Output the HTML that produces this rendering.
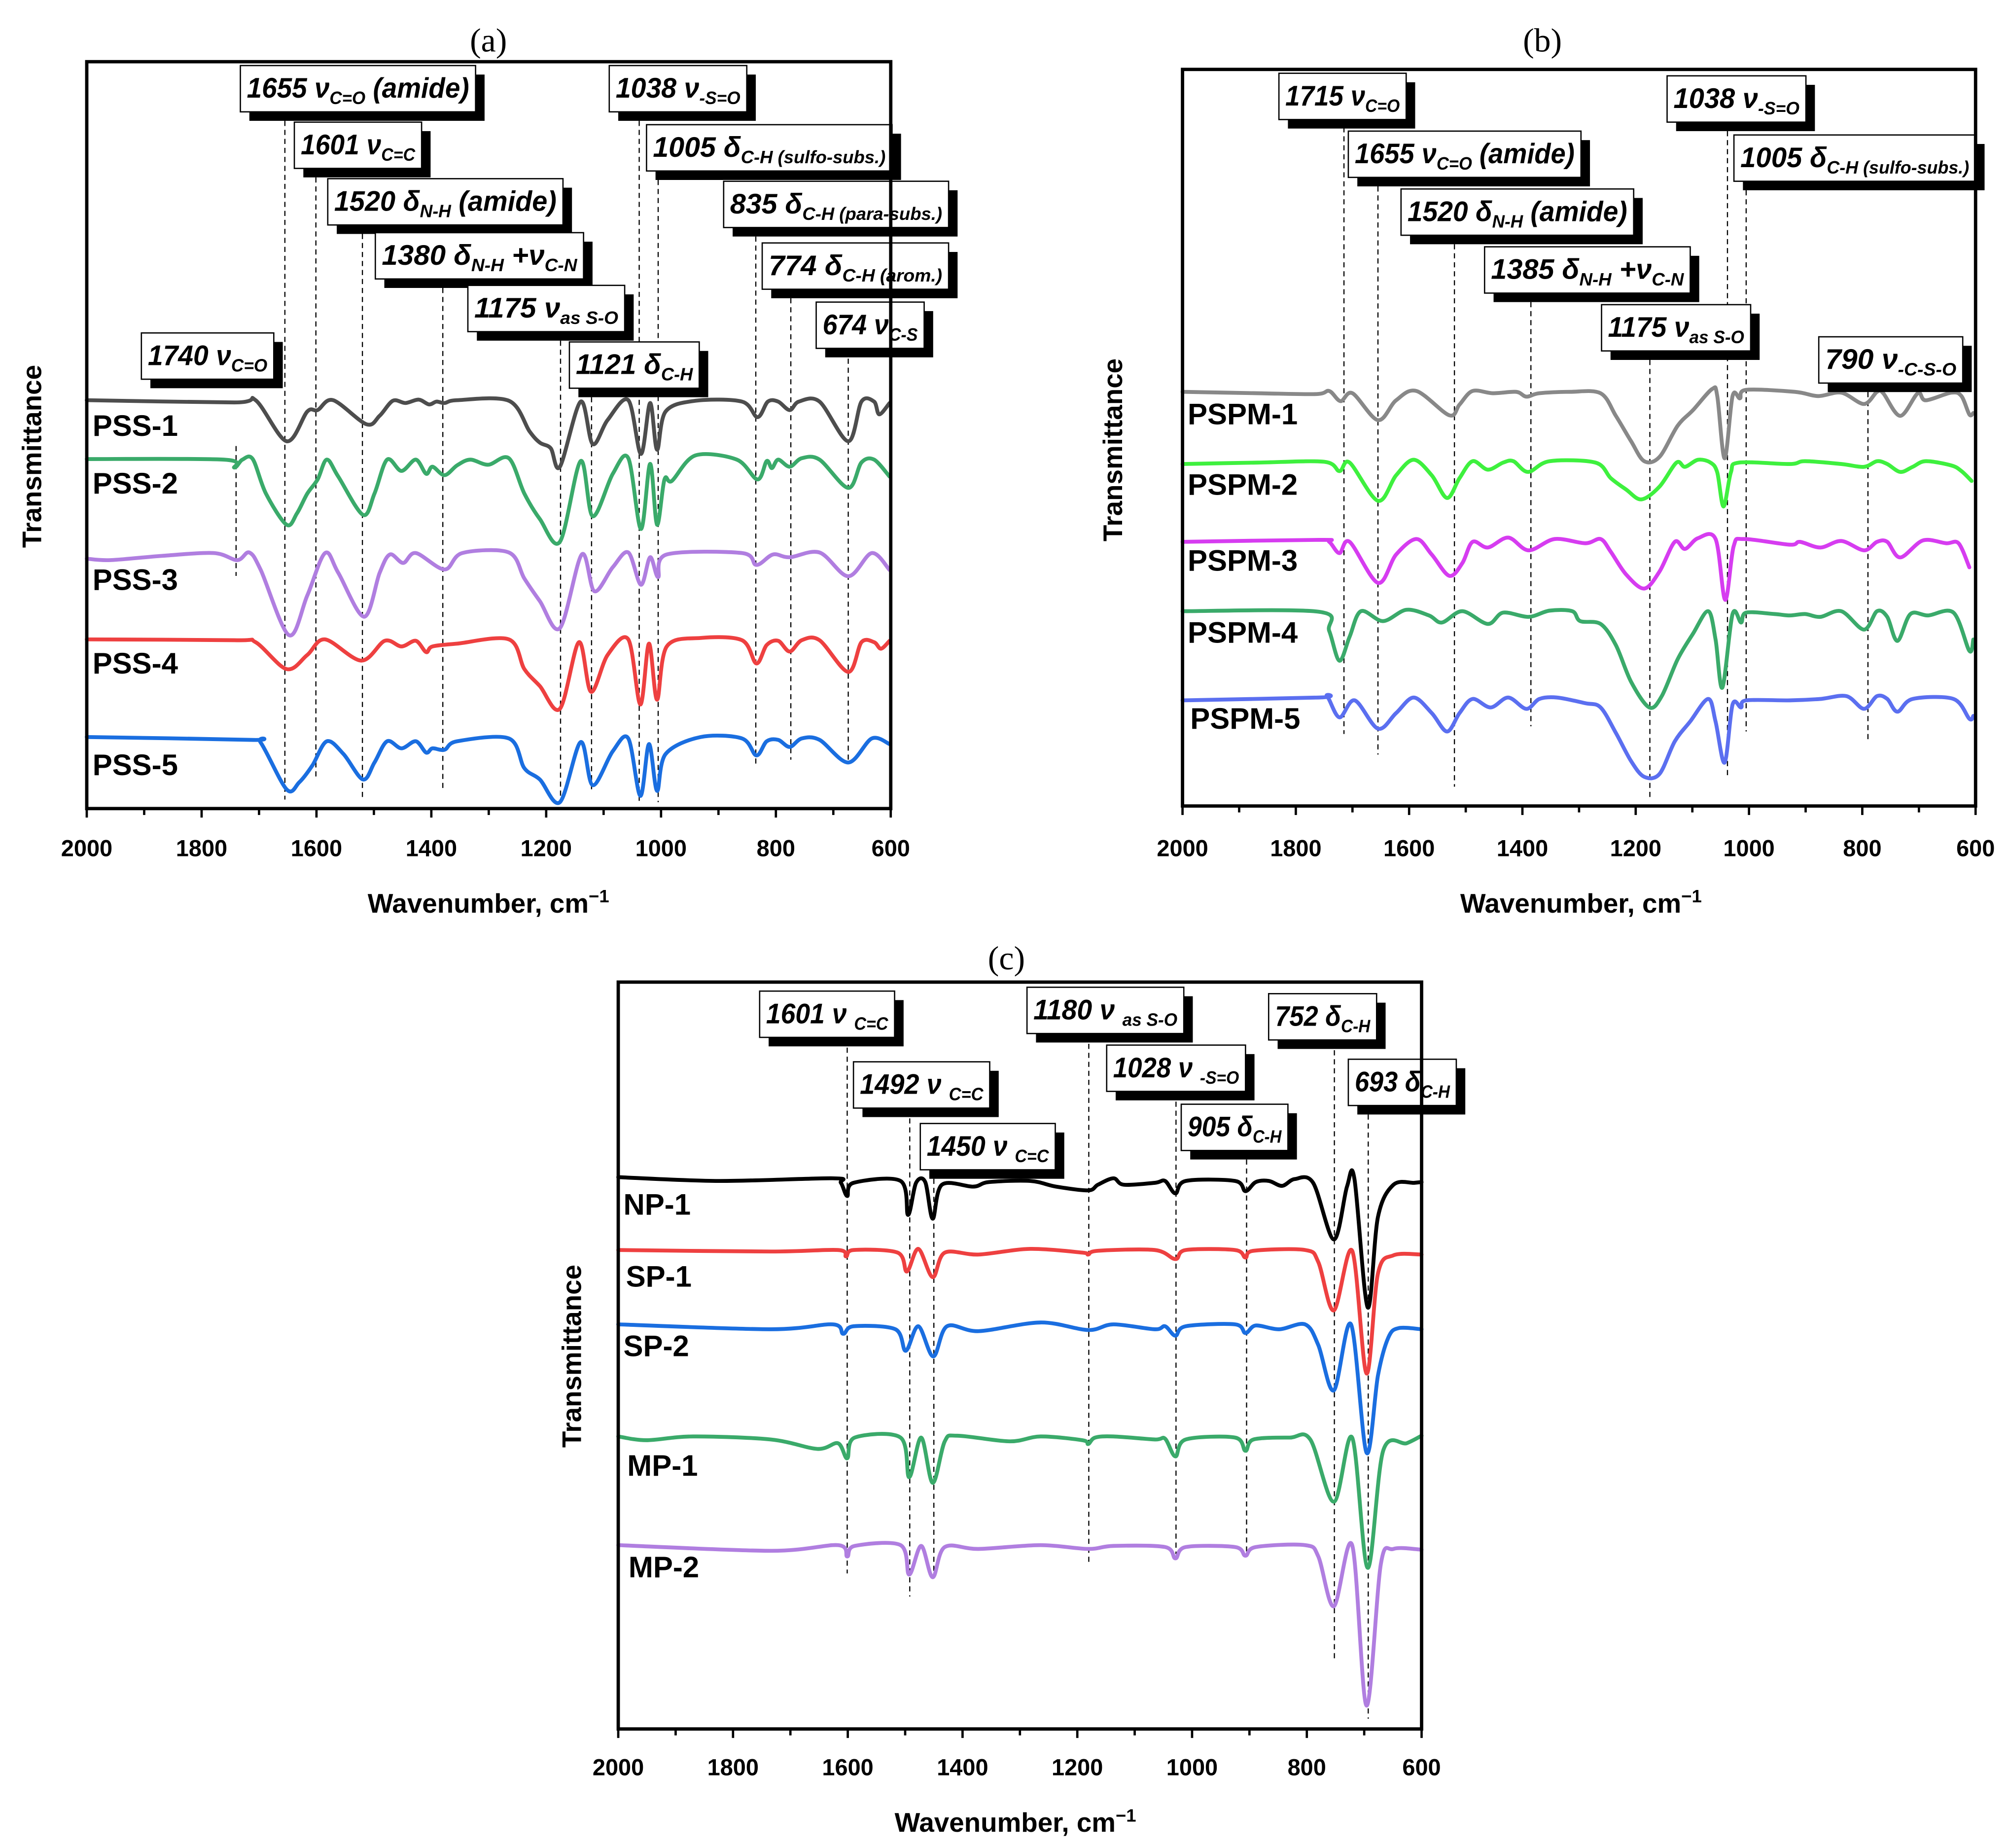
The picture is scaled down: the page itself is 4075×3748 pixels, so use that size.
<!DOCTYPE html>
<html><head><meta charset="utf-8"><style>
html,body{margin:0;padding:0;background:#fff;}
svg{display:block;}
</style></head><body>
<svg id="fig" xmlns="http://www.w3.org/2000/svg" width="4075" height="3748" viewBox="0 0 1563 1437.6" preserveAspectRatio="none" font-family="'Liberation Sans', sans-serif">
<rect x="0" y="0" width="1563" height="1437.6" fill="#fff"/>
</svg>
<script>
// ---------------- data (wavenumber cm-1, transmittance a.u.) ----------------
const pss1 = [[2000,1440],[1743,1432],[1706,1440],[1652,1295],[1616,1400],[1598,1405],[1571,1440],[1513,1355],[1490,1385],[1467,1438],[1445,1430],[1422,1442],[1404,1425],[1391,1435],[1377,1430],[1355,1440],[1265,1438],[1229,1330],[1211,1290],[1192,1270],[1176,1205],[1140,1435],[1119,1285],[1093,1370],[1057,1440],[1035,1250],[1019,1430],[1007,1265],[992,1400],[940,1438],[859,1435],[832,1380],[814,1435],[796,1435],[776,1405],[760,1435],[724,1435],[674,1295],[651,1435],[629,1435],[620,1390],[602,1430]];
const pss2 = [[2000,1232],[1761,1230],[1743,1202],[1729,1230],[1711,1232],[1688,1110],[1652,1000],[1634,1040],[1616,1110],[1598,1160],[1582,1230],[1562,1170],[1519,1035],[1499,1110],[1477,1230],[1452,1190],[1427,1230],[1409,1180],[1398,1205],[1377,1175],[1355,1210],[1332,1230],[1301,1212],[1265,1235],[1238,1110],[1211,1020],[1176,940],[1140,1225],[1119,1030],[1084,1180],[1057,1235],[1035,985],[1019,1215],[1007,1000],[994,1160],[981,1155],[940,1245],[868,1230],[832,1160],[816,1225],[807,1200],[796,1230],[776,1205],[755,1235],[724,1230],[674,1130],[651,1220],[629,1230],[602,1170]];
const pss3 = [[2000,880],[1959,875],[1869,890],[1779,900],[1738,875],[1717,902],[1697,840],[1648,610],[1616,750],[1585,900],[1562,830],[1517,675],[1490,830],[1472,895],[1449,865],[1427,900],[1377,842],[1346,900],[1265,902],[1238,810],[1211,730],[1176,635],[1138,895],[1116,765],[1084,850],[1057,902],[1035,788],[1019,885],[1005,815],[990,895],[859,900],[834,858],[805,895],[776,885],[724,902],[674,818],[633,900],[602,840]];
const pss4 = [[2000,595],[1743,592],[1706,585],[1652,490],[1616,540],[1585,595],[1522,520],[1481,590],[1452,570],[1427,590],[1409,550],[1398,570],[1355,580],[1265,595],[1238,490],[1211,430],[1176,350],[1143,585],[1122,410],[1093,540],[1057,595],[1036,365],[1021,580],[1007,382],[990,570],[931,600],[859,592],[834,510],[816,575],[796,590],[776,552],[755,592],[724,592],[674,480],[651,585],[629,585],[617,562],[602,590]];
const pss5 = [[2000,250],[1715,240],[1697,230],[1652,65],[1630,90],[1607,150],[1582,235],[1553,190],[1519,100],[1499,160],[1477,235],[1452,210],[1427,235],[1409,195],[1398,210],[1377,205],[1355,235],[1265,245],[1238,140],[1211,100],[1176,20],[1140,232],[1119,80],[1084,200],[1057,245],[1036,42],[1021,225],[1007,60],[992,190],[931,250],[859,245],[834,185],[816,235],[796,240],[776,215],[755,245],[724,240],[674,160],[633,245],[602,225]];

const pspm1 = [[2000,1460],[1867,1455],[1764,1452],[1741,1463],[1721,1427],[1700,1455],[1655,1360],[1623,1430],[1587,1463],[1529,1377],[1511,1415],[1488,1463],[1452,1455],[1411,1460],[1393,1443],[1370,1455],[1316,1460],[1262,1455],[1235,1375],[1208,1285],[1185,1215],[1158,1230],[1126,1340],[1099,1395],[1065,1470],[1056,1445],[1043,1225],[1029,1445],[1016,1437],[1005,1467],[919,1460],[878,1445],[837,1457],[797,1417],[774,1460],[763,1455],[733,1375],[702,1455],[688,1430],[643,1457],[625,1445],[611,1380],[604,1385]];
const pspm2 = [[2000,1205],[1867,1210],[1750,1213],[1723,1180],[1705,1210],[1655,1075],[1623,1165],[1592,1220],[1560,1165],[1533,1085],[1511,1155],[1488,1215],[1461,1185],[1434,1210],[1416,1215],[1390,1177],[1352,1215],[1271,1210],[1244,1155],[1217,1115],[1190,1080],[1158,1125],[1128,1210],[1113,1195],[1090,1220],[1068,1210],[1056,1175],[1045,1055],[1032,1175],[1018,1210],[928,1205],[901,1215],[837,1205],[797,1195],[774,1215],[756,1205],[733,1177],[711,1195],[688,1215],[643,1200],[625,1180],[607,1145]];
const pspm3 = [[2000,930],[1759,937],[1741,930],[1723,890],[1705,930],[1655,785],[1623,885],[1587,940],[1560,885],[1529,810],[1506,855],[1488,930],[1461,910],[1425,945],[1389,900],[1343,940],[1289,925],[1262,940],[1244,895],[1217,815],[1185,765],[1158,825],[1131,930],[1113,905],[1090,943],[1059,940],[1042,725],[1027,915],[1009,940],[928,920],[910,930],[874,910],[837,933],[797,900],[774,930],[756,930],[733,875],[693,935],[652,925],[630,925],[611,840]];
const pspm4 = [[2000,685],[1759,683],[1741,615],[1723,510],[1705,595],[1685,685],[1646,650],[1605,690],[1565,670],[1542,645],[1506,685],[1461,640],[1434,680],[1389,665],[1352,687],[1312,685],[1298,650],[1262,640],[1235,565],[1208,435],[1176,345],[1154,385],[1126,515],[1099,605],[1072,685],[1059,585],[1047,415],[1029,675],[1014,645],[1005,680],[955,675],[928,670],[901,675],[874,665],[837,685],[797,620],[774,685],[756,665],[738,580],[715,675],[684,670],[639,680],[611,545],[604,585]];
const pspm5 = [[2000,370],[1759,380],[1745,385],[1723,310],[1696,370],[1655,270],[1623,325],[1592,380],[1560,325],[1533,260],[1511,325],[1488,375],[1456,345],[1425,380],[1393,340],[1370,375],[1339,380],[1289,360],[1262,345],[1235,255],[1208,155],[1185,100],[1158,110],[1131,225],[1104,295],[1072,375],[1059,295],[1043,150],[1029,355],[1014,345],[1005,370],[928,370],[874,375],[828,385],[797,340],[774,385],[756,375],[738,330],[711,375],[639,375],[611,305],[604,315]];

const np1 = [[2000,1460],[1825,1450],[1626,1457],[1612,1445],[1601,1410],[1590,1445],[1508,1450],[1495,1360],[1481,1445],[1465,1447],[1452,1350],[1436,1440],[1381,1435],[1354,1447],[1282,1450],[1237,1435],[1181,1425],[1164,1440],[1137,1457],[1119,1440],[1065,1445],[1047,1450],[1029,1417],[1011,1450],[925,1450],[907,1423],[889,1447],[866,1450],[843,1437],[821,1455],[789,1445],[753,1295],[730,1435],[717,1455],[694,1115],[676,1355],[649,1440],[613,1445],[600,1447]];
const sp1 = [[2000,1267],[1734,1263],[1617,1267],[1603,1250],[1590,1267],[1513,1260],[1497,1210],[1477,1270],[1452,1195],[1431,1260],[1372,1255],[1282,1270],[1191,1260],[1181,1255],[1164,1265],[1065,1267],[1029,1243],[1011,1267],[925,1267],[907,1247],[893,1265],[803,1267],[780,1235],[753,1107],[721,1265],[696,940],[676,1205],[649,1253],[600,1255]];
const sp2 = [[2000,1070],[1734,1057],[1626,1070],[1608,1045],[1590,1065],[1517,1057],[1499,1000],[1477,1065],[1451,985],[1427,1065],[1372,1052],[1264,1075],[1181,1055],[1137,1070],[1065,1057],[1047,1065],[1029,1040],[1011,1065],[925,1070],[907,1047],[889,1067],[848,1057],[803,1070],[780,1015],[753,895],[723,1070],[696,730],[676,935],[658,1035],[640,1060],[600,1057]];
const mp1 = [[2000,773],[1951,763],[1870,773],[1734,765],[1653,740],[1617,755],[1601,715],[1588,770],[1508,770],[1493,665],[1472,770],[1452,650],[1431,760],[1409,775],[1318,760],[1264,773],[1191,763],[1181,753],[1169,770],[1137,773],[1065,765],[1047,767],[1029,720],[1011,765],[925,770],[907,735],[893,765],[830,770],[794,765],[753,600],[721,770],[694,425],[667,735],[626,755],[600,775]];
const mp2 = [[2000,485],[1734,470],[1617,485],[1601,455],[1588,483],[1508,485],[1493,407],[1472,483],[1452,400],[1431,480],[1372,475],[1264,485],[1181,475],[1137,483],[1047,480],[1029,450],[1011,480],[925,480],[907,457],[889,480],[803,485],[780,455],[753,323],[721,485],[696,60],[671,435],[649,475],[600,473]];

const seriesNamesA = ["PSS-1","PSS-2","PSS-3","PSS-4","PSS-5"];
const seriesNamesB = ["PSPM-1","PSPM-2","PSPM-3","PSPM-4","PSPM-5"];
const seriesNamesC = ["NP-1","SP-1","SP-2","MP-1","MP-2"];
const tickValues = [2000,1800,1600,1400,1200,1000,800,600];

// band assignments (wavenumber) with label text segments [text, isSubscript]
const bandsA = [
 {wn:1655, parts:[["1655 ν",0],["C=O",1],[" (amide)",0]]},
 {wn:1601, parts:[["1601 ν",0],["C=C",1]]},
 {wn:1520, parts:[["1520 δ",0],["N-H",1],[" (amide)",0]]},
 {wn:1380, parts:[["1380 δ",0],["N-H",1],[" +ν",0],["C-N",1]]},
 {wn:1175, parts:[["1175 ν",0],["as S-O",1]]},
 {wn:1740, parts:[["1740 ν",0],["C=O",1]]},
 {wn:1121, parts:[["1121 δ",0],["C-H",1]]},
 {wn:1038, parts:[["1038 ν",0],["-S=O",1]]},
 {wn:1005, parts:[["1005 δ",0],["C-H (sulfo-subs.)",1]]},
 {wn:835, parts:[["835 δ",0],["C-H (para-subs.)",1]]},
 {wn:774, parts:[["774  δ",0],["C-H (arom.)",1]]},
 {wn:674, parts:[["674 ν",0],["C-S",1]]}
];
const bandsB = [
 {wn:1715, parts:[["1715 ν",0],["C=O",1]]},
 {wn:1655, parts:[["1655 ν",0],["C=O",1],[" (amide)",0]]},
 {wn:1520, parts:[["1520 δ",0],["N-H",1],[" (amide)",0]]},
 {wn:1385, parts:[["1385 δ",0],["N-H",1],[" +ν",0],["C-N",1]]},
 {wn:1175, parts:[["1175 ν",0],["as S-O",1]]},
 {wn:1038, parts:[["1038 ν",0],["-S=O",1]]},
 {wn:1005, parts:[["1005 δ",0],["C-H (sulfo-subs.)",1]]},
 {wn:790, parts:[["790 ν",0],["-C-S-O",1]]}
];
const bandsC = [
 {wn:1601, parts:[["1601 ν ",0],["C=C",1]]},
 {wn:1492, parts:[["1492 ν ",0],["C=C",1]]},
 {wn:1450, parts:[["1450 ν ",0],["C=C",1]]},
 {wn:1180, parts:[["1180 ν ",0],["as S-O",1]]},
 {wn:1028, parts:[["1028 ν ",0],["-S=O",1]]},
 {wn:905, parts:[["905 δ",0],["C-H",1]]},
 {wn:752, parts:[["752 δ",0],["C-H",1]]},
 {wn:693, parts:[["693 δ",0],["C-H",1]]}
];

// ---------------- layout (pixels, not data) ----------------
const panels = [
 {id:"a", title:"(a)", left:67.5, right:693, top:48, bottom:629, yBase:628.4, yUnit:0.2202,
  titleX:380, titleY:40, tickY:666, xTitleX:380, xTitleY:710, yTitleX:32, yTitleY:355,
  series:[pss1,pss2,pss3,pss4,pss5], names:seriesNamesA,
  colors:["#4d4d4d","#3aaa6a","#b07ee0","#ee4040","#1a6ee0"],
  nameX:[72,72,72,72,72], nameY:[339,384,459,524,603],
  bands:bandsA,
  boxes:[[187,51,183],[229,95,99],[255,139,183],[292,181,162],[364,222,122],[110,259,103],[443,266,101],[474,51,107],[503,97,191],[563,141,175],[593,189,145],[635,235,84]],
  lineEnds:[[87,622],[131,605],[175,623],[217,615],[258,625],[347,448],[302,615],[87,626],[133,624],[177,596],[225,591],[272,593]]},
 {id:"b", title:"(b)", left:920, right:1537, top:54, bottom:627, yBase:626.3, yUnit:0.2202,
  titleX:1200, titleY:40, tickY:666, xTitleX:1230, xTitleY:710, yTitleX:873, yTitleY:350,
  series:[pspm1,pspm2,pspm3,pspm4,pspm5], names:seriesNamesB,
  colors:["#888888","#3ef03e","#d63cf0","#3aaa6a","#5b6ff0"],
  nameX:[924,924,924,924,926], nameY:[330,385,444,500,567],
  bands:bandsB,
  boxes:[[995,57,99],[1049,102,181],[1090,147,181],[1155,192,160],[1246,237,116],[1297,59,108],[1349,105,188],[1415,262,112]],
  lineEnds:[[92,571],[138,587],[183,612],[228,565],[273,621],[95,605],[141,569],[298,578]]},
 {id:"c", title:"(c)", left:481, right:1106, top:764, bottom:1345, yBase:1344.4, yUnit:0.2936,
  titleX:783, titleY:754, tickY:1381, xTitleX:790, xTitleY:1425, yTitleX:452, yTitleY:1055,
  series:[np1,sp1,sp2,mp1,mp2], names:seriesNamesC,
  colors:["#000000","#ee4040","#1a6ee0","#3aaa6a","#b07ee0"],
  nameX:[485,487,485,488,489], nameY:[945,1001,1055,1148,1227],
  bands:bandsC,
  boxes:[[591,771,105],[664,826,106],[716,874,105],[799,768,122],[861,813,108],[919,859,83],[987,773,84],[1049,824,84]],
  lineEnds:[[808,1224],[863,1242],[910,1228],[805,1215],[850,1209],[895,1209],[810,1293],[860,1337]]}
];

const NS = "http://www.w3.org/2000/svg";
const svg = document.getElementById("fig");
function mk(tag, attrs, parent){
  const e = document.createElementNS(NS, tag);
  for (const k in attrs) e.setAttribute(k, attrs[k]);
  (parent||svg).appendChild(e);
  return e;
}
function smoothPath(pts){
  let d = "M" + pts[0][0].toFixed(2) + "," + pts[0][1].toFixed(2);
  const t = 0.16;
  for (let i=0;i<pts.length-1;i++){
    const p0 = pts[i-1]||pts[i], p1 = pts[i], p2 = pts[i+1], p3 = pts[i+2]||pts[i+1];
    const c1x = p1[0] + (p2[0]-p0[0])*t, c1y = p1[1] + (p2[1]-p0[1])*t;
    const c2x = p2[0] - (p3[0]-p1[0])*t, c2y = p2[1] - (p3[1]-p1[1])*t;
    d += " C" + c1x.toFixed(2)+","+c1y.toFixed(2)+" "+c2x.toFixed(2)+","+c2y.toFixed(2)+" "+p2[0].toFixed(2)+","+p2[1].toFixed(2);
  }
  return d;
}

panels.forEach(function(P){
  const xScale = function(wn){ return P.left + (2000 - wn) / 1400 * (P.right - P.left); };
  const yScale = function(T){ return P.yBase - T * P.yUnit; };
  const g = mk("g", {});
  
  

  // title
  const tt = mk("text", {x:P.titleX, y:P.titleY, "text-anchor":"middle", "font-family":"'Liberation Serif', serif", "font-size":"26"}, g);
  tt.textContent = P.title;
  
  

  // dashed band lines
  P.bands.forEach(function(b, i){
    const x = xScale(b.wn);
    const ln = mk("line", {x1:x, x2:x, y1:P.lineEnds[i][0], y2:P.lineEnds[i][1], stroke:"#000", "stroke-width":"0.9", "stroke-dasharray":"4 3"}, g);
    
    
  });

  // series
  P.series.forEach(function(s, i){
    const pts = s.map(function(p){ return [xScale(p[0]), yScale(p[1])]; });
    const path = mk("path", {d:smoothPath(pts), fill:"none", stroke:P.colors[i], "stroke-width":"3", "stroke-linejoin":"round", "stroke-linecap":"round"}, g);
    
    
    const lab = mk("text", {x:P.nameX[i], y:P.nameY[i], "font-size":"23", "font-weight":"bold", fill:"#000"}, g);
    lab.textContent = P.names[i];
    
    
  });

  // band label boxes
  P.bands.forEach(function(b, i){
    const bx = P.boxes[i][0], by = P.boxes[i][1], bw = P.boxes[i][2], bh = 36;
    const lg = mk("g", {}, g);
    
    
    mk("rect", {x:bx+7, y:by+7, width:bw, height:bh, fill:"#000"}, lg);
    mk("rect", {x:bx, y:by, width:bw, height:bh, fill:"#fff", stroke:"#000", "stroke-width":"1"}, lg);
    const tx = mk("text", {x:bx+5, y:by+25, "font-size":"22", "font-weight":"bold", "font-style":"italic", textLength:bw-10, lengthAdjust:"spacingAndGlyphs"}, lg);
    let shifted = false;
    b.parts.forEach(function(pt){
      const ts = mk("tspan", {}, tx);
      if (pt[1]) { ts.setAttribute("font-size","14"); if(!shifted){ts.setAttribute("dy","5"); shifted=true;} }
      else if (shifted) { ts.setAttribute("dy","-5"); shifted=false; }
      ts.textContent = pt[0];
    });
  });

  // frame
  const fr = mk("rect", {x:P.left, y:P.top, width:P.right-P.left, height:P.bottom-P.top, fill:"none", stroke:"#000", "stroke-width":"2.6"}, g);
  
  

  // ticks
  for (let wn=2000; wn>=600; wn-=100){
    const x = xScale(wn);
    const major = (wn % 200 === 0);
    const tk = mk("line", {x1:x, x2:x, y1:P.bottom, y2:P.bottom + (major?7:5), stroke:"#000", "stroke-width":"1.8"}, g);
    
    
  }
  tickValues.forEach(function(v){
    const tl = mk("text", {x:xScale(v), y:P.tickY, "text-anchor":"middle", "font-size":"18", "font-weight":"bold"}, g);
    tl.textContent = String(v);
    
    
  });

  // axis titles
  const xt = mk("text", {x:P.xTitleX, y:P.xTitleY, "text-anchor":"middle", "font-size":"21", "font-weight":"bold"}, g);
  xt.textContent = "Wavenumber, cm";
  const sup = mk("tspan", {"font-size":"14", dy:"-8"}, xt);
  sup.textContent = "\u22121";
  
  
  const yt = mk("text", {x:P.yTitleX, y:P.yTitleY, "text-anchor":"middle", "font-size":"21", "font-weight":"bold", transform:"rotate(-90 " + P.yTitleX + " " + P.yTitleY + ")"}, g);
  yt.textContent = "Transmittance";
  
  
});
</script>
</body></html>
